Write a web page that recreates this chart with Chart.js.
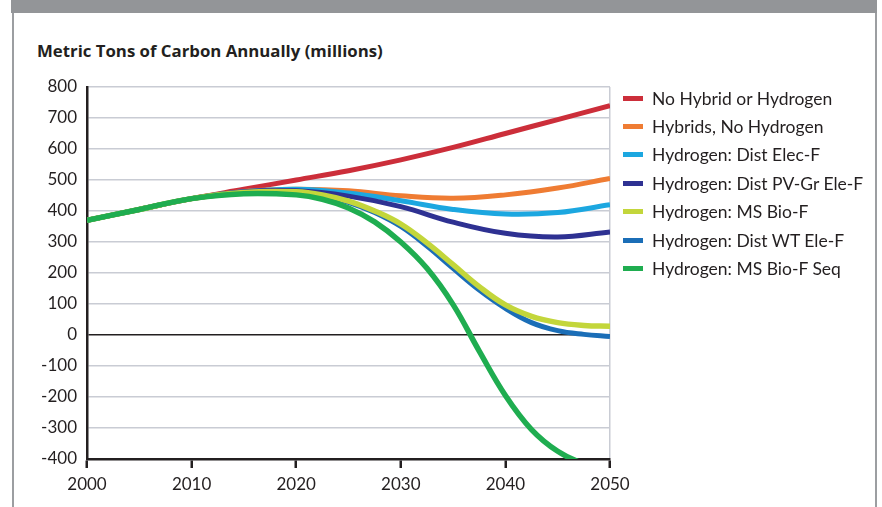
<!DOCTYPE html>
<html>
<head>
<meta charset="utf-8">
<script src="https://cdn.jsdelivr.net/npm/chart.js@4/dist/chart.umd.min.js"></script>
<style>
    html, body { margin: 0; padding: 0; background: #fff; }
    body { width: 882px; height: 507px; position: relative; overflow: hidden; font-family: Lato, "Open Sans", sans-serif; color: #231f20; }
    #band { position: absolute; left: 11px; top: 0; width: 866px; height: 13px; background: #939598; }
    #frameL { position: absolute; left: 12px; top: 13px; width: 2px; height: 494px; background: #9c9ea1; }
    #frameR { position: absolute; left: 875px; top: 13px; width: 2px; height: 494px; background: #9c9ea1; }
    #title { position: absolute; left: 37px; top: 39px; font-family: "Open Sans", sans-serif; font-size: 16.8px; font-weight: bold; white-space: nowrap; }
    #chartBox { position: absolute; left: 0; top: 0; width: 882px; height: 507px; }
    #legend { position: absolute; left: 623px; top: 84px; list-style: none; margin: 0; padding: 0; }
    #legend li { height: 28.4px; display: flex; align-items: center; font-size: 17.5px; white-space: nowrap; }
    #legend .sw { width: 20px; height: 5px; margin-right: 9px; }
</style>
</head>
<body>
<div id="band"></div>
<div id="frameL"></div>
<div id="frameR"></div>
<div id="title">Metric Tons of Carbon Annually (millions)</div>
<div id="chartBox"><canvas id="carbonChart"></canvas></div>
<ul id="legend"></ul>
<script>
// Years and values
const years5 = [2000, 2005, 2010, 2015, 2020, 2025, 2030, 2035, 2040, 2045, 2050];
const years25 = [2000, 2005, 2010, 2015, 2020, 2022.5, 2025, 2027.5, 2030, 2032.5, 2035,
                 2037.5, 2040, 2042.5, 2045, 2047.5, 2050];

const noHybrid = [370, 405, 440, 470, 500, 530, 565, 605, 650, 695, 740];
const hybrids = [370, 405, 440, 463, 470, 465, 449, 441, 452, 474, 505];
const distElec = [370, 405, 440, 462, 470, 458, 433, 405, 390, 395, 420];
const distPV = [370, 405, 440, 462, 465, 448, 414, 364, 328, 316, 332];
const msBio = [370, 405, 440, 460, 462, 452, 432, 400, 358, 297, 227, 156, 97, 60, 40, 31, 28];
const distWT = [370, 405, 440, 460, 460, 450, 428, 395, 350, 287, 215, 145, 86, 40, 14, 2, -5];
const msBioSeq = [370, 405, 440, 456, 452, 438, 410, 365, 300, 215, 98, -52, -195, -305, -375, -415, -430];

const seriesNames = [
    "No Hybrid or Hydrogen",
    "Hybrids, No Hydrogen",
    "Hydrogen: Dist Elec-F",
    "Hydrogen: Dist PV-Gr Ele-F",
    "Hydrogen: MS Bio-F",
    "Hydrogen: Dist WT Ele-F",
    "Hydrogen: MS Bio-F Seq"
];
const seriesColors = ["#cc2e3a", "#ef7c33", "#1ca7e0", "#2e3192", "#c3d63b", "#1b6eb7", "#1fad50"];
const seriesValues = [noHybrid, hybrids, distElec, distPV, msBio, distWT, msBioSeq];
const seriesYears = [years5, years5, years5, years5, years25, years25, years25];
const drawOrder = [6, 5, 4, 3, 1, 2, 0]; // green on top

const yTicks = [-400, -300, -200, -100, 0, 100, 200, 300, 400, 500, 600, 700, 800];
const xTicks = [2000, 2010, 2020, 2030, 2040, 2050];

const datasets = seriesNames.map((name, i) => ({
    label: name,
    data: seriesValues[i].map((v, j) => ({ x: seriesYears[i][j], y: v })),
    borderColor: seriesColors[i],
    backgroundColor: seriesColors[i],
    borderWidth: i === 4 || i === 6 ? 5.5 : 5,
    pointRadius: 0,
    tension: 0.4,
    order: drawOrder[i],
    fill: false
}));

// HTML legend
const legend = document.getElementById("legend");
seriesNames.forEach((name, i) => {
    const li = document.createElement("li");
    li.innerHTML = `<span class="sw" style="background:${seriesColors[i]}"></span>${name}`;
    legend.appendChild(li);
});

const ctx = document.getElementById("carbonChart").getContext("2d");
const chart = new Chart(ctx, {
    type: "line",
    data: { datasets },
    options: {
        responsive: true,
        maintainAspectRatio: false,
        animation: false,
        layout: { padding: { left: 0, top: 87, right: 272, bottom: 0 } },
        plugins: { legend: { display: false }, tooltip: { enabled: false } },
        scales: {
            x: {
                type: "linear",
                min: 2000,
                max: 2050,
                afterBuildTicks: scale => { scale.ticks = xTicks.map(v => ({ value: v })); },
                afterFit: scale => { scale.height = 48; },
                border: { color: "#231f20", width: 2.5 },
                grid: {
                    color: c => (c.tick && c.tick.value === 2050 ? "#c9ccd4" : "rgba(0,0,0,0)"),
                    lineWidth: 1.5,
                    tickColor: "#231f20",
                    tickWidth: 2.5,
                    tickLength: 9
                },
                ticks: {
                    color: "#231f20",
                    font: { family: "Lato", size: 17 },
                    padding: 6,
                    maxRotation: 0,
                    callback: v => String(v)
                }
            },
            y: {
                min: -400,
                max: 800,
                afterBuildTicks: scale => { scale.ticks = yTicks.map(v => ({ value: v })); },
                afterFit: scale => { scale.width = 87; },
                border: { color: "#231f20", width: 2.5 },
                grid: {
                    color: c => (c.tick && c.tick.value === 0 ? "#231f20" : "#c9ccd4"),
                    lineWidth: 1.5,
                    drawTicks: false
                },
                ticks: {
                    color: "#231f20",
                    font: { family: "Lato", size: 17 },
                    padding: 10
                }
            }
        }
    }
});
</script>
</body>
</html>
